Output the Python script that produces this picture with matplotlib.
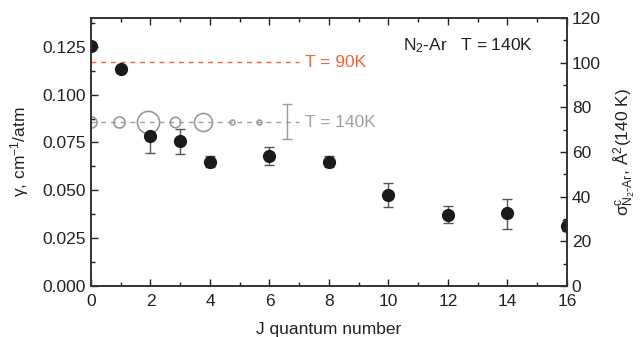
import numpy as np
import matplotlib
matplotlib.use('Agg')
import matplotlib.pyplot as plt
from matplotlib.ticker import MultipleLocator

plt.rcParams['font.family'] = ['Liberation Sans', 'DejaVu Sans']
plt.rcParams['mathtext.fontset'] = 'custom'
plt.rcParams['mathtext.rm'] = 'Liberation Sans'
plt.rcParams['mathtext.it'] = 'Liberation Sans'
plt.rcParams['mathtext.sf'] = 'Liberation Sans'

# measured broadening vs J
J = [0, 1, 2, 3, 4, 6, 8, 10, 12, 14, 16]
gamma = [0.1255, 0.1135, 0.0785, 0.0755, 0.065, 0.068, 0.065, 0.0477, 0.0373, 0.0379, 0.0316]
err_lo = [0.0, 0.0, 0.009, 0.0065, 0.003, 0.005, 0.003, 0.0065, 0.0043, 0.0083, 0.003]
err_hi = [0.0, 0.0, 0.0, 0.0065, 0.003, 0.0045, 0.003, 0.006, 0.0045, 0.0077, 0.003]

# reference levels
gamma_90K = 0.117
gamma_140K = 0.0856
line_end = 7.0

# open circles on the 140K line (x position, marker size)
circ_x = [0.0, 0.94, 1.92, 2.82, 3.76, 4.74, 5.65]
circ_ms = [8, 8, 16, 7.5, 13, 3.5, 3.5]
bar_x = 6.59
bar_lo, bar_hi = 0.0766, 0.0950

fig = plt.figure(figsize=(6.43, 3.37), dpi=100)
ax = fig.add_axes([0.1415, 0.1513, 0.7403, 0.7953])

ax.plot([0, line_end], [gamma_90K, gamma_90K], ls=(0, (3.5, 3.5)), color='#f0643a', lw=1.0)
ax.plot([0, line_end], [gamma_140K, gamma_140K], ls=(0, (3.5, 3.5)), color='#a0a0a0', lw=1.0)
for x, ms in zip(circ_x, circ_ms):
    ax.plot(x, gamma_140K, 'o', mfc='none', mec='#9a9a9a', ms=ms, mew=1.2)
ax.errorbar([bar_x], [gamma_140K], yerr=[[gamma_140K - bar_lo], [bar_hi - gamma_140K]],
            fmt='none', ecolor='#9a9a9a', elinewidth=1.0, capsize=3.5)

ax.errorbar(J, gamma, yerr=[err_lo, err_hi], fmt='o', color='#1a1a1a', ms=8.5,
            ecolor='#555555', elinewidth=1.0, capsize=3.5, zorder=5)

ax.text(7.2, gamma_90K, 'T = 90K', color='#f0643a', fontsize=12.5, va='center')
ax.text(7.2, gamma_140K, 'T = 140K', color='#a0a0a0', fontsize=12.5, va='center')
ax.text(10.5, 0.1255, r'N$_2$-Ar   T = 140K', color='#222222', fontsize=12.5, va='center')

ax.set_xlim(0, 16)
ax.set_ylim(0, 0.14)
ax.set_xticks([0, 2, 4, 6, 8, 10, 12, 14, 16])
ax.set_yticks([0, 0.025, 0.05, 0.075, 0.1, 0.125])
ax.set_yticklabels(['0.000', '0.025', '0.050', '0.075', '0.100', '0.125'])
ax.xaxis.set_minor_locator(MultipleLocator(1))
ax.yaxis.set_minor_locator(MultipleLocator(0.0125))
ax.tick_params(which='both', direction='in', top=True, right=False, labelsize=12.5, colors='#222222')
ax.tick_params(which='major', length=5, width=1)
ax.tick_params(which='minor', length=3, width=1)
ax.tick_params(axis='x', pad=6)
ax.set_xlabel('J quantum number', fontsize=12.5, color='#222222', labelpad=9)
ax.set_ylabel('γ, cm$^{-1}$/atm', fontsize=12.5, color='#222222', labelpad=8)
for s in ax.spines.values():
    s.set_linewidth(1.2)
    s.set_color('#333333')

ax2 = ax.twinx()
ax2.set_ylim(0, 120)
ax2.set_yticks(np.arange(0, 121, 20))
ax2.yaxis.set_minor_locator(MultipleLocator(10))
ax2.tick_params(which='both', direction='in', labelsize=12.5, colors='#222222')
ax2.tick_params(which='major', length=5, width=1)
ax2.tick_params(which='minor', length=3, width=1)
ax2.set_ylabel(r'$\mathrm{σ^{c}_{N_2\text{-}Ar}}$, Å$^2$(140 K)', fontsize=12.5,
               color='#222222', labelpad=7)
for s in ax2.spines.values():
    s.set_linewidth(1.2)
    s.set_color('#333333')

fig.savefig('out.png', dpi=100)
